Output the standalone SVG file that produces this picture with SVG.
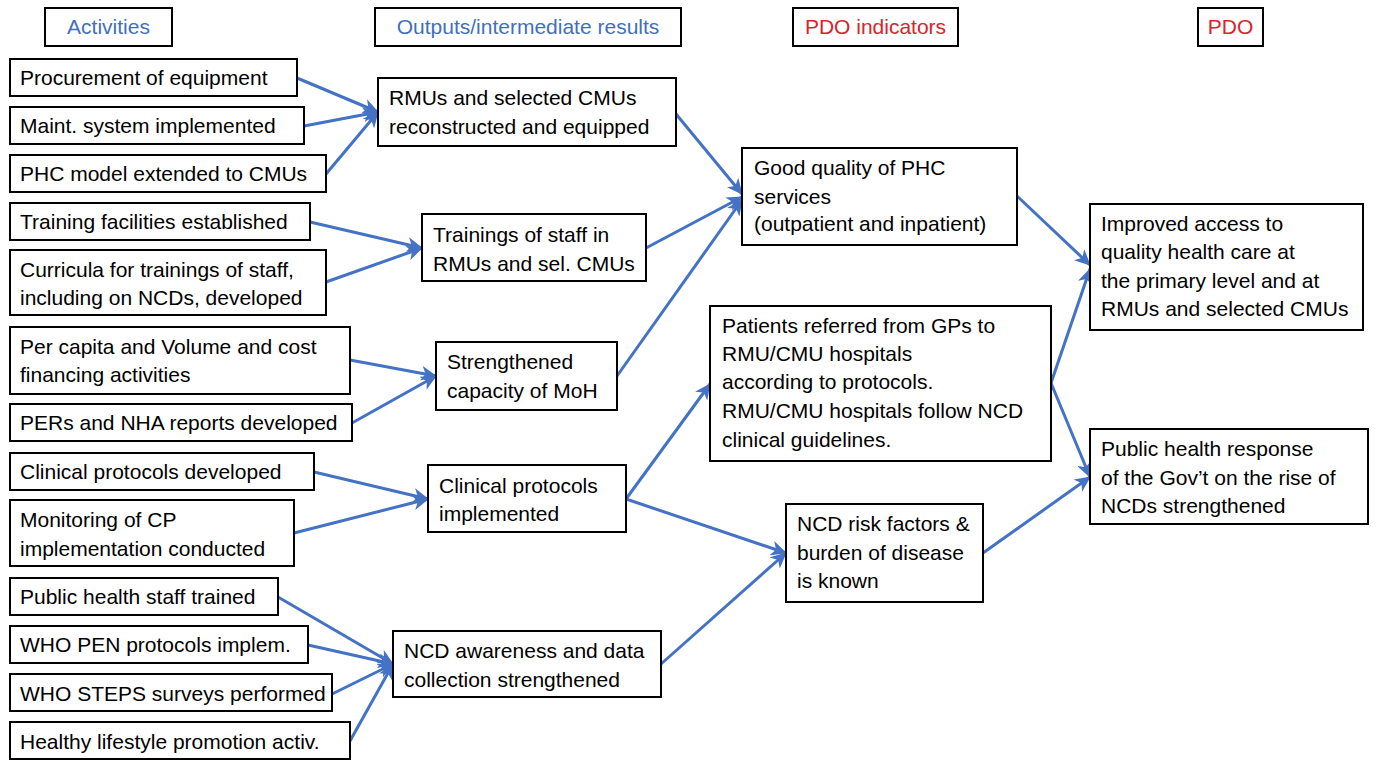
<svg xmlns="http://www.w3.org/2000/svg" width="1376" height="761" viewBox="0 0 1376 761">
<style>
.box{fill:#fff;stroke:#000;stroke-width:2}
.t{font-family:"Liberation Sans",Arial,sans-serif;font-size:21px;fill:#000}
.hb{fill:#3F6FBF}
.hr{fill:#D9232D}
.c{fill:none;stroke:#4472C4;stroke-width:3;marker-end:url(#ah)}
</style>
<defs>
<marker id="ah" markerUnits="userSpaceOnUse" markerWidth="17" markerHeight="15" refX="15" refY="7.5" orient="auto">
<path d="M0,0 L16,7.5 L0,15 L4.5,7.5 z" fill="#4472C4"/>
</marker>
</defs>
<rect width="1376" height="761" fill="#fff"/>

<g id="connectors">
<line class="c" x1="297" y1="78" x2="378" y2="112"/>
<line class="c" x1="304" y1="126" x2="378" y2="112"/>
<line class="c" x1="326" y1="174" x2="378" y2="112"/>
<line class="c" x1="310" y1="222" x2="422" y2="248"/>
<line class="c" x1="326" y1="282" x2="422" y2="248"/>
<line class="c" x1="350" y1="360" x2="436" y2="376"/>
<line class="c" x1="352" y1="423" x2="436" y2="376"/>
<line class="c" x1="314" y1="472" x2="428" y2="499"/>
<line class="c" x1="294" y1="533" x2="428" y2="499"/>
<line class="c" x1="278" y1="597" x2="393" y2="664"/>
<line class="c" x1="308" y1="645" x2="393" y2="664"/>
<line class="c" x1="332" y1="694" x2="393" y2="664"/>
<line class="c" x1="350" y1="741" x2="393" y2="664"/>
<line class="c" x1="676" y1="114" x2="742" y2="194"/>
<line class="c" x1="646" y1="248" x2="742" y2="197"/>
<line class="c" x1="617" y1="376" x2="742" y2="200"/>
<line class="c" x1="626" y1="499" x2="710" y2="384"/>
<line class="c" x1="626" y1="499" x2="786" y2="553"/>
<line class="c" x1="661" y1="664" x2="786" y2="553"/>
<line class="c" x1="1017" y1="196" x2="1090" y2="265"/>
<line class="c" x1="1051" y1="383" x2="1090" y2="269"/>
<line class="c" x1="1051" y1="383" x2="1090" y2="477"/>
<line class="c" x1="983" y1="553" x2="1090" y2="477"/>
</g>

<g id="h-activities"><rect class="box" x="45" y="8" width="127" height="38"/><text class="t hb" x="108.5" y="34" text-anchor="middle">Activities</text></g>
<g id="h-outputs"><rect class="box" x="375" y="8" width="306" height="38"/><text class="t hb" x="528" y="34" text-anchor="middle">Outputs/intermediate results</text></g>
<g id="h-pdoind"><rect class="box" x="793" y="8" width="165" height="38"/><text class="t hr" x="875.5" y="34" text-anchor="middle">PDO indicators</text></g>
<g id="h-pdo"><rect class="box" x="1198" y="8" width="65" height="38"/><text class="t hr" x="1230.5" y="34" text-anchor="middle">PDO</text></g>

<g id="a1"><rect class="box" x="10" y="59" width="287" height="37"/><text class="t" x="20" y="85">Procurement of equipment</text></g>
<g id="a2"><rect class="box" x="10" y="107" width="294" height="37"/><text class="t" x="20" y="133">Maint. system implemented</text></g>
<g id="a3"><rect class="box" x="10" y="155" width="316" height="37"/><text class="t" x="20" y="181">PHC model extended to CMUs</text></g>
<g id="a4"><rect class="box" x="10" y="203" width="300" height="37"/><text class="t" x="20" y="229">Training facilities established</text></g>
<g id="a5"><rect class="box" x="10" y="250" width="316" height="65"/><text class="t" x="20" y="277">Curricula for trainings of staff,</text><text class="t" x="20" y="305">including on NCDs, developed</text></g>
<g id="a6"><rect class="box" x="10" y="327" width="340" height="67"/><text class="t" x="20" y="354">Per capita and Volume and cost</text><text class="t" x="20" y="382">financing activities</text></g>
<g id="a7"><rect class="box" x="10" y="404" width="342" height="37"/><text class="t" x="20" y="430">PERs and NHA reports developed</text></g>
<g id="a8"><rect class="box" x="10" y="453" width="304" height="37"/><text class="t" x="20" y="479">Clinical protocols developed</text></g>
<g id="a9"><rect class="box" x="10" y="500" width="284" height="66"/><text class="t" x="20" y="527">Monitoring of CP</text><text class="t" x="20" y="556">implementation conducted</text></g>
<g id="a10"><rect class="box" x="10" y="578" width="268" height="37"/><text class="t" x="20" y="604">Public health staff trained</text></g>
<g id="a11"><rect class="box" x="10" y="626" width="298" height="37"/><text class="t" x="20" y="652">WHO PEN protocols implem.</text></g>
<g id="a12"><rect class="box" x="10" y="674" width="322" height="37"/><text class="t" x="20" y="701">WHO STEPS surveys performed</text></g>
<g id="a13"><rect class="box" x="10" y="722" width="340" height="37"/><text class="t" x="20" y="749">Healthy lifestyle promotion activ.</text></g>

<g id="o1"><rect class="box" x="378" y="78" width="298" height="68"/><text class="t" x="389" y="105">RMUs and selected CMUs</text><text class="t" x="389" y="134">reconstructed and equipped</text></g>
<g id="o2"><rect class="box" x="422" y="214" width="224" height="67"/><text class="t" x="433" y="242">Trainings of staff in</text><text class="t" x="433" y="271">RMUs and sel. CMUs</text></g>
<g id="o3"><rect class="box" x="436" y="342" width="181" height="68"/><text class="t" x="447" y="369">Strengthened</text><text class="t" x="447" y="398">capacity of MoH</text></g>
<g id="o4"><rect class="box" x="428" y="465" width="198" height="67"/><text class="t" x="439" y="493">Clinical protocols</text><text class="t" x="439" y="521">implemented</text></g>
<g id="o5"><rect class="box" x="393" y="631" width="268" height="66"/><text class="t" x="404" y="658">NCD awareness and data</text><text class="t" x="404" y="687">collection strengthened</text></g>

<g id="i1"><rect class="box" x="742" y="148" width="275" height="97"/><text class="t" x="754" y="175">Good quality of PHC</text><text class="t" x="754" y="204">services</text><text class="t" x="754" y="231">(outpatient and inpatient)</text></g>
<g id="i2"><rect class="box" x="710" y="306" width="341" height="155"/><text class="t" x="722" y="333">Patients referred from GPs to</text><text class="t" x="722" y="361">RMU/CMU hospitals</text><text class="t" x="722" y="389">according to protocols.</text><text class="t" x="722" y="418">RMU/CMU hospitals follow NCD</text><text class="t" x="722" y="447">clinical guidelines.</text></g>
<g id="i3"><rect class="box" x="786" y="504" width="197" height="98"/><text class="t" x="797" y="531">NCD risk factors &amp;</text><text class="t" x="797" y="560">burden of disease</text><text class="t" x="797" y="588">is known</text></g>

<g id="p1"><rect class="box" x="1090" y="204" width="273" height="126"/><text class="t" x="1101" y="231">Improved access to</text><text class="t" x="1101" y="259">quality health care at</text><text class="t" x="1101" y="288">the primary level and at</text><text class="t" x="1101" y="316">RMUs and selected CMUs</text></g>
<g id="p2"><rect class="box" x="1090" y="429" width="278" height="95"/><text class="t" x="1101" y="456">Public health response</text><text class="t" x="1101" y="485">of the Gov’t on the rise of</text><text class="t" x="1101" y="513">NCDs strengthened</text></g>
</svg>
